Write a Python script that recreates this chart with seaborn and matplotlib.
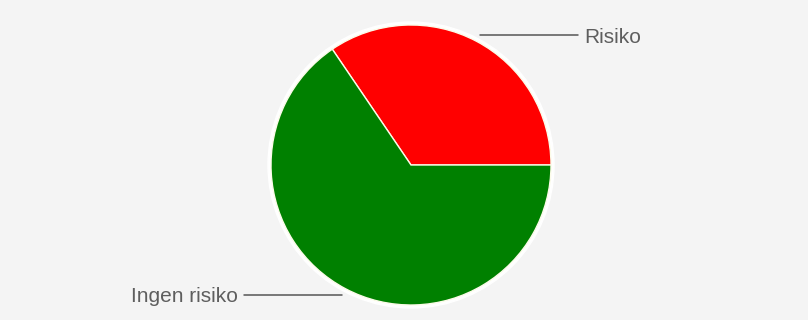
import numpy as np
import matplotlib
matplotlib.use("Agg")
import matplotlib.pyplot as plt
import seaborn as sns

# Share of each category
categories = ["Risiko", "Ingen risiko"]
values = [34.5, 65.5]
slice_colors = ["#ff0000", "#008000"]

sns.set_theme(style="white")
plt.rcParams["font.family"] = ["Liberation Sans", "DejaVu Sans"]

W, H = 808, 320
fig = plt.figure(figsize=(W / 100, H / 100), dpi=100, facecolor="#f4f4f4")
ax = fig.add_axes([0, 0, 1, 1])
ax.set_facecolor("#f4f4f4")

cx, cy, r = 411, 155, 140

# soft white rim around the pie
ax.add_patch(plt.Circle((cx, cy), r + 3, color="white", zorder=1))

wedges, _ = ax.pie(values, colors=slice_colors, startangle=0, counterclock=True,
                   center=(cx, cy), radius=r, frame=True,
                   wedgeprops=dict(edgecolor="#fbfbe8", linewidth=1.0, zorder=2))
ax.set_xlim(0, W)
ax.set_ylim(0, H)
ax.set_aspect("equal")
ax.axis("off")

# leader lines and labels at each slice's mid-angle
label_color = "#5e5e5e"
for w, name in zip(wedges, categories):
    mid = np.deg2rad((w.theta1 + w.theta2) / 2)
    x0 = cx + 1.05 * r * np.cos(mid)
    y0 = cy + 1.05 * r * np.sin(mid)
    side = 1 if np.cos(mid) >= 0 else -1
    x1 = x0 + side * 98
    ax.plot([x0, x1], [y0, y0], color="#555555", lw=1.1, zorder=3)
    ax.text(x1 + side * 6, y0 - 2, name, ha="left" if side > 0 else "right",
            va="center", fontsize=15, color=label_color, zorder=3)

fig.savefig("out.png", dpi=100, facecolor=fig.get_facecolor())
